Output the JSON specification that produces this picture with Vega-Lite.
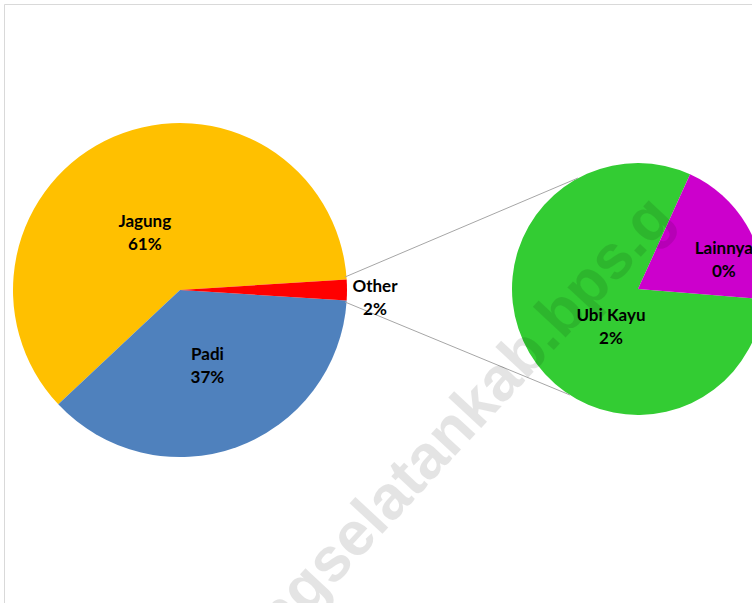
{
  "$schema": "https://vega.github.io/schema/vega-lite/v6.json",
  "width": 748,
  "height": 599,
  "autosize": {"type": "none"},
  "padding": {"left": 4, "top": 4, "right": 0, "bottom": 0},
  "background": "#ffffff",
  "config": {"view": {"stroke": "#d9d9d9", "strokeWidth": 1}},
  "datasets": {
    "pieMain": [
      {"pie": "main", "name": "Jagung", "value": 61, "label": "Jagung\n61%"},
      {"pie": "main", "name": "Padi", "value": 37, "label": "Padi\n37%"},
      {"pie": "main", "name": "Other", "value": 2, "label": "Other\n2%"}
    ],
    "pieSub": [
      {"pie": "sub", "name": "Ubi Kayu", "value": 1.61, "label": "Ubi Kayu\n2%"},
      {"pie": "sub", "name": "Lainnya", "value": 0.39, "label": "Lainnya\n0%"}
    ],
    "connectors": [
      {"x": 341, "y": 273, "x2": 574, "y2": 174},
      {"x": 341, "y": 298, "x2": 566, "y2": 391}
    ],
    "watermark": [
      {"x": 398, "y": 481, "text": "lampungselatankab.bps.g"}
    ]
  },
  "resolve": {"scale": {"theta": "independent", "x": "independent", "y": "independent"}},
  "layer": [
    {
      "data": {"name": "pieMain"},
      "mark": {"type": "arc", "outerRadius": 167},
      "encoding": {
        "x": {"field": "pie", "type": "nominal", "scale": {"type": "point", "domain": ["main", "sub"], "range": [176, 634], "padding": 0}, "axis": null},
        "y": {"field": "pie", "type": "nominal", "scale": {"type": "point", "domain": ["main", "sub"], "range": [286, 285], "padding": 0}, "axis": null},
        "theta": {"field": "value", "type": "quantitative", "stack": true, "scale": {"domain": [0, 100], "range": [1.508, 7.791]}},
        "order": {"field": "value", "type": "quantitative", "sort": "ascending"},
        "color": {"field": "name", "type": "nominal", "scale": {"domain": ["Jagung", "Padi", "Other", "Ubi Kayu", "Lainnya"], "range": ["#FFC000", "#4F81BD", "#FF0000", "#33CC33", "#CC00CC"]}, "legend": null}
      }
    },
    {
      "data": {"name": "pieSub"},
      "mark": {"type": "arc", "outerRadius": 126},
      "encoding": {
        "x": {"field": "pie", "type": "nominal", "scale": {"type": "point", "domain": ["main", "sub"], "range": [176, 634], "padding": 0}, "axis": null},
        "y": {"field": "pie", "type": "nominal", "scale": {"type": "point", "domain": ["main", "sub"], "range": [286, 285], "padding": 0}, "axis": null},
        "theta": {"field": "value", "type": "quantitative", "stack": true, "scale": {"domain": [0, 2], "range": [0.426, 6.709]}},
        "order": {"field": "value", "type": "quantitative", "sort": "ascending"},
        "color": {"field": "name", "type": "nominal", "scale": {"domain": ["Jagung", "Padi", "Other", "Ubi Kayu", "Lainnya"], "range": ["#FFC000", "#4F81BD", "#FF0000", "#33CC33", "#CC00CC"]}, "legend": null}
      }
    },
    {
      "data": {"name": "connectors"},
      "mark": {"type": "rule", "color": "#a6a6a6", "strokeWidth": 1},
      "encoding": {
        "x": {"field": "x", "type": "quantitative", "scale": {"domain": [0, 748], "range": [0, 748]}, "axis": null},
        "x2": {"field": "x2"},
        "y": {"field": "y", "type": "quantitative", "scale": {"domain": [0, 599], "range": [0, 599]}, "axis": null},
        "y2": {"field": "y2"}
      }
    },
    {
      "data": {"name": "watermark"},
      "mark": {"type": "text", "font": "Liberation Sans", "fontWeight": "bold", "fontSize": 62, "angle": -47, "fill": "#000000", "opacity": 0.1, "align": "center", "baseline": "middle"},
      "encoding": {
        "x": {"field": "x", "type": "quantitative", "scale": {"domain": [0, 748], "range": [0, 748]}, "axis": null},
        "y": {"field": "y", "type": "quantitative", "scale": {"domain": [0, 599], "range": [0, 599]}, "axis": null},
        "text": {"field": "text", "type": "nominal"}
      }
    },
    {
      "data": {"name": "pieMain"},
      "mark": {"type": "text", "font": "Lato", "fontWeight": "bold", "fontSize": 17, "lineHeight": 23, "lineBreak": "\n", "fill": "#000000",
        "radius": {"expr": "datum.name === 'Other' ? 195 : datum.name === 'Padi' ? 81 : 66"},
        "dx": {"expr": "datum.name === 'Jagung' ? -9 : 0"},
        "dy": {"expr": "datum.name === 'Jagung' ? -7 : datum.name === 'Other' ? -3 : -11"}},
      "encoding": {
        "x": {"field": "pie", "type": "nominal", "scale": {"type": "point", "domain": ["main", "sub"], "range": [176, 634], "padding": 0}, "axis": null},
        "y": {"field": "pie", "type": "nominal", "scale": {"type": "point", "domain": ["main", "sub"], "range": [286, 285], "padding": 0}, "axis": null},
        "theta": {"field": "value", "type": "quantitative", "stack": true, "scale": {"domain": [0, 100], "range": [1.508, 7.791]}},
        "order": {"field": "value", "type": "quantitative", "sort": "ascending"},
        "detail": {"field": "name", "type": "nominal"},
        "text": {"field": "label", "type": "nominal"}
      }
    },
    {
      "data": {"name": "pieSub"},
      "mark": {"type": "text", "font": "Lato", "fontWeight": "bold", "fontSize": 17, "lineHeight": 23, "lineBreak": "\n", "fill": "#000000",
        "radius": {"expr": "datum.name === 'Lainnya' ? 88 : 43"},
        "dx": 10,
        "dy": 5},
      "encoding": {
        "x": {"field": "pie", "type": "nominal", "scale": {"type": "point", "domain": ["main", "sub"], "range": [176, 634], "padding": 0}, "axis": null},
        "y": {"field": "pie", "type": "nominal", "scale": {"type": "point", "domain": ["main", "sub"], "range": [286, 285], "padding": 0}, "axis": null},
        "theta": {"field": "value", "type": "quantitative", "stack": true, "scale": {"domain": [0, 2], "range": [0.426, 6.709]}},
        "order": {"field": "value", "type": "quantitative", "sort": "ascending"},
        "detail": {"field": "name", "type": "nominal"},
        "text": {"field": "label", "type": "nominal"}
      }
    }
  ]
}
